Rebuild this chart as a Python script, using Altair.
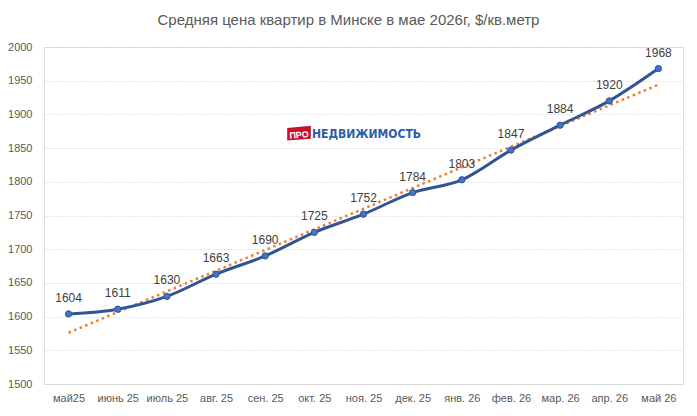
import json
import altair as alt
import pandas as pd

months = ["май25", "июнь 25", "июль 25", "авг. 25", "сен. 25", "окт. 25", "ноя. 25",
          "дек. 25", "янв. 26", "фев. 26", "мар. 26", "апр. 26", "май 26"]
prices = [1604, 1611, 1630, 1663, 1690, 1725, 1752, 1784, 1803, 1847, 1884, 1920, 1968]
y_ticks = list(range(1500, 2001, 50))
title_text = "Средняя  цена квартир в Минске в мае 2026г, $/кв.метр"
logo_pro = "ПРО"
logo_main = "НЕДВИЖИМОСТЬ"

df = pd.DataFrame({"idx": list(range(len(months))), "month": months, "price": prices})

FONT = "Liberation Sans"
label_expr = json.dumps(months, ensure_ascii=False) + "[datum.value]"

x_enc = alt.X(
    "idx:Q",
    scale=alt.Scale(domain=[-0.5, len(months) - 0.5], nice=False, zero=False),
    axis=alt.Axis(values=list(range(len(months))), labelExpr=label_expr, title=None,
                  grid=False, ticks=False, domainColor="#D9D9D9", domainWidth=1,
                  labelColor="#595959", labelFont=FONT, labelFontSize=11,
                  labelPadding=8, labelFlush=False, labelOverlap=False),
)
y_enc = alt.Y(
    "price:Q",
    scale=alt.Scale(domain=[1500, 2000], nice=False, zero=False),
    axis=alt.Axis(values=y_ticks, tickCount=len(y_ticks), format="d", title=None,
                  domain=False, ticks=False,
                  grid=True, gridColor="#D0D0D0", gridDash=[1, 2], gridWidth=1,
                  labelOverlap=False, labelFlush=False,
                  labelColor="#595959", labelFont=FONT, labelFontSize=11, labelPadding=12),
)

base = alt.Chart(df)

trend = base.transform_regression("idx", "price").mark_line(
    color="#ED7D31", strokeWidth=2.5, strokeDash=[2.5, 3.5]
)
line = base.mark_line(interpolate="monotone", color="#2F5597", strokeWidth=3)
points = base.mark_point(filled=True, size=40, color="#4472C4", stroke="#2F5597",
                         strokeWidth=1, opacity=1)
labels = base.mark_text(dy=-16, fontSize=12, font=FONT, color="#404040").encode(
    text="price:Q")

logo_df = pd.DataFrame({"pro": [logo_pro], "main": [logo_main]})
logo_box = alt.Chart(logo_df).mark_point(
    shape="M-1,-0.5L1,-0.7L1,0.4L-1,0.55Z", filled=True, color="#C8102E",
    size=560, opacity=1
).encode(x=alt.value(255), y=alt.value(87))
logo_pro_t = alt.Chart(logo_df).mark_text(
    font=FONT, fontSize=9, fontWeight="bold", color="white", angle=355
).encode(x=alt.value(255), y=alt.value(88), text="pro:N")
logo_main_t = alt.Chart(logo_df).mark_text(
    font="DejaVu Sans Condensed", fontSize=12, fontWeight="bold", color="#2B5DA8",
    align="left"
).encode(x=alt.value(268), y=alt.value(87), text="main:N")

data_layers = alt.layer(trend, line, points, labels).encode(x=x_enc, y=y_enc)

chart = alt.layer(data_layers, logo_box, logo_pro_t, logo_main_t).properties(
    width=639, height=337,
    title=alt.TitleParams(title_text, fontSize=15, color="#595959", font=FONT,
                          fontWeight="normal", anchor="middle", dx=-15, offset=13),
    autosize=alt.AutoSizeParams(type="none"),
    padding={"left": 36, "top": 39, "right": 6, "bottom": 24},
).configure_view(stroke=None).configure(background="white")

chart.save("out.html", embed_options={"renderer": "svg", "actions": False})
